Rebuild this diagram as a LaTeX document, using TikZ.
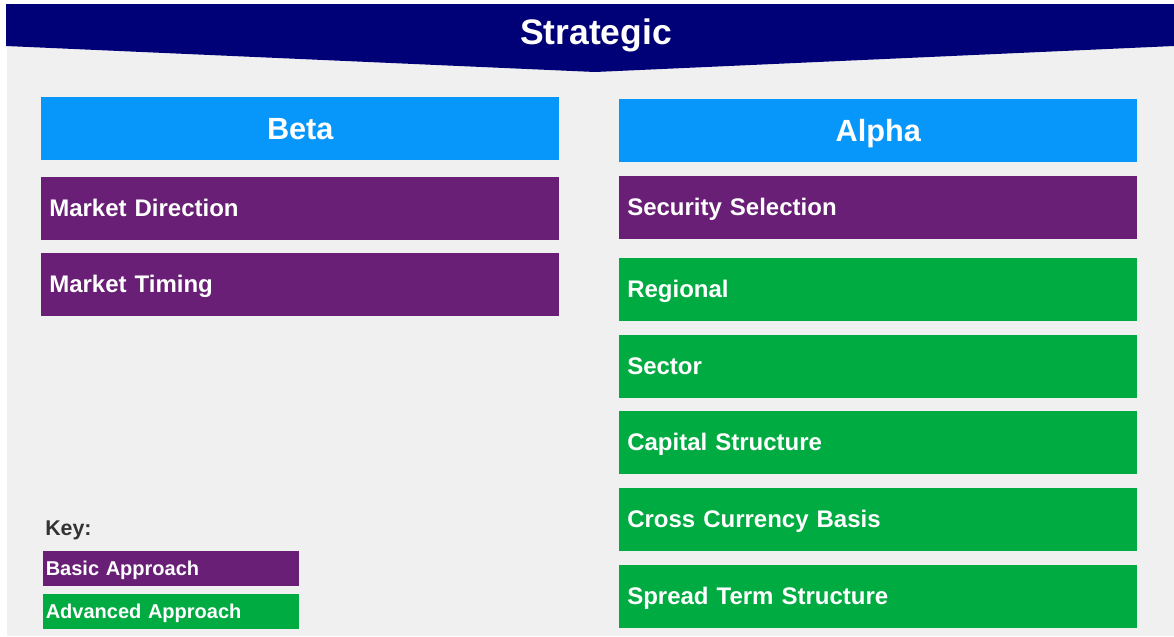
\documentclass[tikz,border=0pt]{standalone}
\usepackage{fontspec}
\setmainfont{Liberation Sans}
\definecolor{navyband}{RGB}{0,0,119}
\definecolor{bgray}{RGB}{240,240,240}
\definecolor{headblue}{RGB}{7,150,250}
\definecolor{basicpurple}{RGB}{104,31,117}
\definecolor{advgreen}{RGB}{0,172,65}
\definecolor{keygray}{RGB}{51,51,51}
\tikzset{
  cell/.style={rectangle, anchor=north west, inner xsep=8*0.75pt, inner ysep=0pt,
    minimum height=62.6*0.75pt, text width=502*0.75pt, align=left, text=white,
    font=\fontsize{18}{20}\selectfont\bfseries, text height=12pt, text depth=0pt},
  basic/.style={cell, fill=basicpurple},
  advanced/.style={cell, fill=advgreen},
  header/.style={rectangle, anchor=north west, inner sep=0pt,
    minimum height=62.6*0.75pt, minimum width=518*0.75pt, fill=headblue, text=white,
    font=\fontsize{23}{26}\selectfont\bfseries, text height=16.5pt, text depth=0pt},
  keycell/.style={rectangle, anchor=north west, inner xsep=2.5*0.75pt, inner ysep=0pt,
    minimum height=35*0.75pt, text width=251*0.75pt, align=left, text=white,
    font=\fontsize{15}{17}\selectfont\bfseries, text height=10.5pt, text depth=0pt},
}
\begin{document}
\begin{tikzpicture}[x=0.75pt,y=-0.75pt]
\useasboundingbox (0,0) rectangle (1174,636);
\fill[bgray] (7,4) rectangle (1174,636);
\fill[navyband] (6,4) -- (1174,4) -- (1174,46) -- (595,72) -- (6,46) -- cycle;
\node[text=white, font=\fontsize{26.6}{30}\selectfont\bfseries, text height=19pt, text depth=0pt, inner sep=0pt] (strategic) at (596,32) {Strategic};

\node[header] (beta) at (41,97) {Beta};
\node[header] (alpha) at (619,99) {Alpha};

\node[basic] (mdir) at (41,177) {Market Direction};
\node[basic] (mtime) at (41,253) {Market Timing};

\node[basic] (secsel) at (619,176) {Security Selection};
\node[advanced] (regional) at (619,258) {Regional};
\node[advanced] (sector) at (619,335) {Sector};
\node[advanced] (capstr) at (619,411) {Capital Structure};
\node[advanced] (ccb) at (619,488) {Cross Currency Basis};
\node[advanced] (sts) at (619,565) {Spread Term Structure};

\node[anchor=base west, inner sep=0pt, text=keygray, font=\fontsize{16}{18}\selectfont\bfseries] (key) at (45,535) {Key:};
\node[keycell, fill=basicpurple] (keybasic) at (43,551) {Basic Approach};
\node[keycell, fill=advgreen] (keyadv) at (43,594) {Advanced Approach};
\end{tikzpicture}
\end{document}
